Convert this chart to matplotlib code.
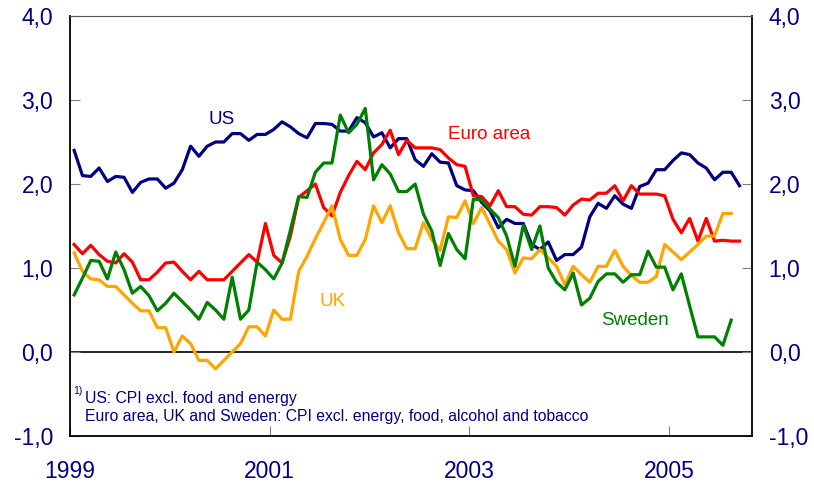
import numpy as np
from matplotlib import pyplot as plt

plt.rcParams['font.family'] = ['Liberation Sans', 'DejaVu Sans']

# monthly core CPI, Jan 1999 onwards (annual % change)
us = [2.40, 2.10, 2.09, 2.19, 2.03, 2.09, 2.08, 1.90, 2.02, 2.06, 2.06, 1.95,
      2.01, 2.17, 2.45, 2.33, 2.45, 2.50, 2.50, 2.60, 2.60, 2.52, 2.59, 2.59,
      2.65, 2.74, 2.68, 2.60, 2.55, 2.72, 2.72, 2.71, 2.63, 2.63, 2.79, 2.73,
      2.56, 2.61, 2.43, 2.54, 2.54, 2.29, 2.21, 2.36, 2.26, 2.25, 1.98, 1.93,
      1.92, 1.78, 1.68, 1.48, 1.58, 1.53, 1.53, 1.28, 1.22, 1.31, 1.09, 1.16,
      1.16, 1.25, 1.61, 1.77, 1.71, 1.86, 1.76, 1.71, 1.97, 2.01, 2.17, 2.17,
      2.28, 2.37, 2.35, 2.25, 2.19, 2.05, 2.14, 2.14, 1.98]
euro = [1.28, 1.17, 1.27, 1.16, 1.08, 1.06, 1.17, 1.07, 0.86, 0.86, 0.95, 1.06,
        1.07, 0.96, 0.86, 0.96, 0.86, 0.86, 0.86, 0.96, 1.06, 1.16, 1.07, 1.53,
        1.15, 1.06, 1.38, 1.84, 1.92, 2.00, 1.72, 1.62, 1.90, 2.10, 2.27, 2.17,
        2.37, 2.47, 2.64, 2.35, 2.52, 2.43, 2.43, 2.43, 2.41, 2.31, 2.23, 2.21,
        1.86, 1.85, 1.74, 1.92, 1.73, 1.73, 1.64, 1.63, 1.73, 1.73, 1.72, 1.63,
        1.75, 1.82, 1.81, 1.89, 1.89, 1.98, 1.80, 1.98, 1.88, 1.88, 1.88, 1.86,
        1.58, 1.42, 1.59, 1.32, 1.59, 1.32, 1.33, 1.32, 1.32]
uk = [1.18, 0.96, 0.87, 0.86, 0.78, 0.78, 0.68, 0.58, 0.49, 0.49, 0.29, 0.29,
      0.00, 0.19, 0.10, -0.10, -0.10, -0.20, -0.10, 0.00, 0.10, 0.30, 0.30, 0.19,
      0.50, 0.39, 0.39, 0.96, 1.14, 1.35, 1.54, 1.74, 1.34, 1.15, 1.15, 1.34,
      1.74, 1.54, 1.74, 1.42, 1.23, 1.23, 1.54, 1.34, 1.21, 1.61, 1.60, 1.80,
      1.53, 1.72, 1.52, 1.32, 1.22, 0.94, 1.12, 1.11, 1.22, 1.12, 1.02, 0.80,
      1.02, 0.92, 0.83, 1.02, 1.02, 1.21, 1.02, 0.91, 0.83, 0.83, 0.90, 1.28,
      1.19, 1.10, 1.19, 1.28, 1.38, 1.38, 1.65, 1.65]
sweden = [0.68, 0.88, 1.09, 1.08, 0.87, 1.19, 0.98, 0.70, 0.78, 0.67, 0.49, 0.58,
          0.70, 0.60, 0.50, 0.39, 0.59, 0.50, 0.39, 0.89, 0.39, 0.50, 1.07, 0.98,
          0.87, 1.06, 1.45, 1.85, 1.84, 2.14, 2.25, 2.25, 2.82, 2.61, 2.71, 2.90,
          2.05, 2.23, 2.12, 1.91, 1.91, 2.00, 1.64, 1.44, 1.03, 1.41, 1.22, 1.11,
          1.82, 1.81, 1.70, 1.60, 1.38, 1.02, 1.51, 1.22, 1.50, 1.00, 0.83, 0.74,
          0.94, 0.56, 0.64, 0.84, 0.93, 0.93, 0.83, 0.92, 0.92, 1.20, 1.01, 1.01,
          0.74, 0.93, 0.55, 0.18, 0.18, 0.18, 0.08, 0.38]

yticks = [-1, 0, 1, 2, 3, 4]
xticks = [1999, 2001, 2003, 2005]

navy = '#000080'


def to_year(series):
    return 1999 + (np.arange(len(series)) + 0.5) / 12


fig = plt.figure(figsize=(8.14, 4.86), dpi=100)
ax = fig.add_axes([70 / 814, 50 / 486, 682 / 814, 420 / 486])

ax.axhline(0, color='black', lw=1.2, zorder=1)
ax.plot(to_year(us), us, color=navy, lw=2.3)
ax.plot(to_year(euro), euro, color='#ff0000', lw=2.3)
ax.plot(to_year(uk), uk, color='#ffa500', lw=2.3)
ax.plot(to_year(sweden), sweden, color='#008000', lw=2.3)

ax.set_xlim(1999, 2005 + 10 / 12)
ax.set_ylim(-1, 4)
ax.set_yticks(yticks)
ax.set_yticklabels([f'{v:.1f}'.replace('.', ',') for v in yticks])
ax.set_xticks(xticks)
ax.set_xticklabels([str(v) for v in xticks])

ax.tick_params(axis='y', direction='in', length=7, color='#808080',
               left=True, right=True, labelleft=True, labelright=True,
               labelsize=16.5, labelcolor=navy, pad=12)
ax.tick_params(axis='x', direction='in', length=7, color='#808080',
               labelsize=16.5, labelcolor=navy, pad=17)
for side in ['left', 'bottom', 'right']:
    ax.spines[side].set_linewidth(1.3)
ax.spines['top'].set_linewidth(0.8)
ax.spines['top'].set_color('#555555')

ax.text(2000.52, 2.77, 'US', color=navy, fontsize=13.5, ha='center', va='center')
ax.text(2003.2, 2.59, 'Euro area', color='#ff0000', fontsize=13.5, ha='center', va='center')
ax.text(2001.63, 0.60, 'UK', color='#ffa500', fontsize=13.5, ha='center', va='center')
ax.text(2004.66, 0.38, 'Sweden', color='#008000', fontsize=13.5, ha='center', va='center')

ax.text(1999.03, -0.47, '1)', color=navy, fontsize=7.5, va='center')
ax.text(1999.15, -0.55, 'US: CPI excl. food and energy', color=navy,
        fontsize=11.3, va='center')
ax.text(1999.15, -0.77,
        'Euro area, UK and Sweden: CPI excl. energy, food, alcohol and tobacco',
        color=navy, fontsize=11.3, va='center')

plt.savefig('out.png', dpi=100)
